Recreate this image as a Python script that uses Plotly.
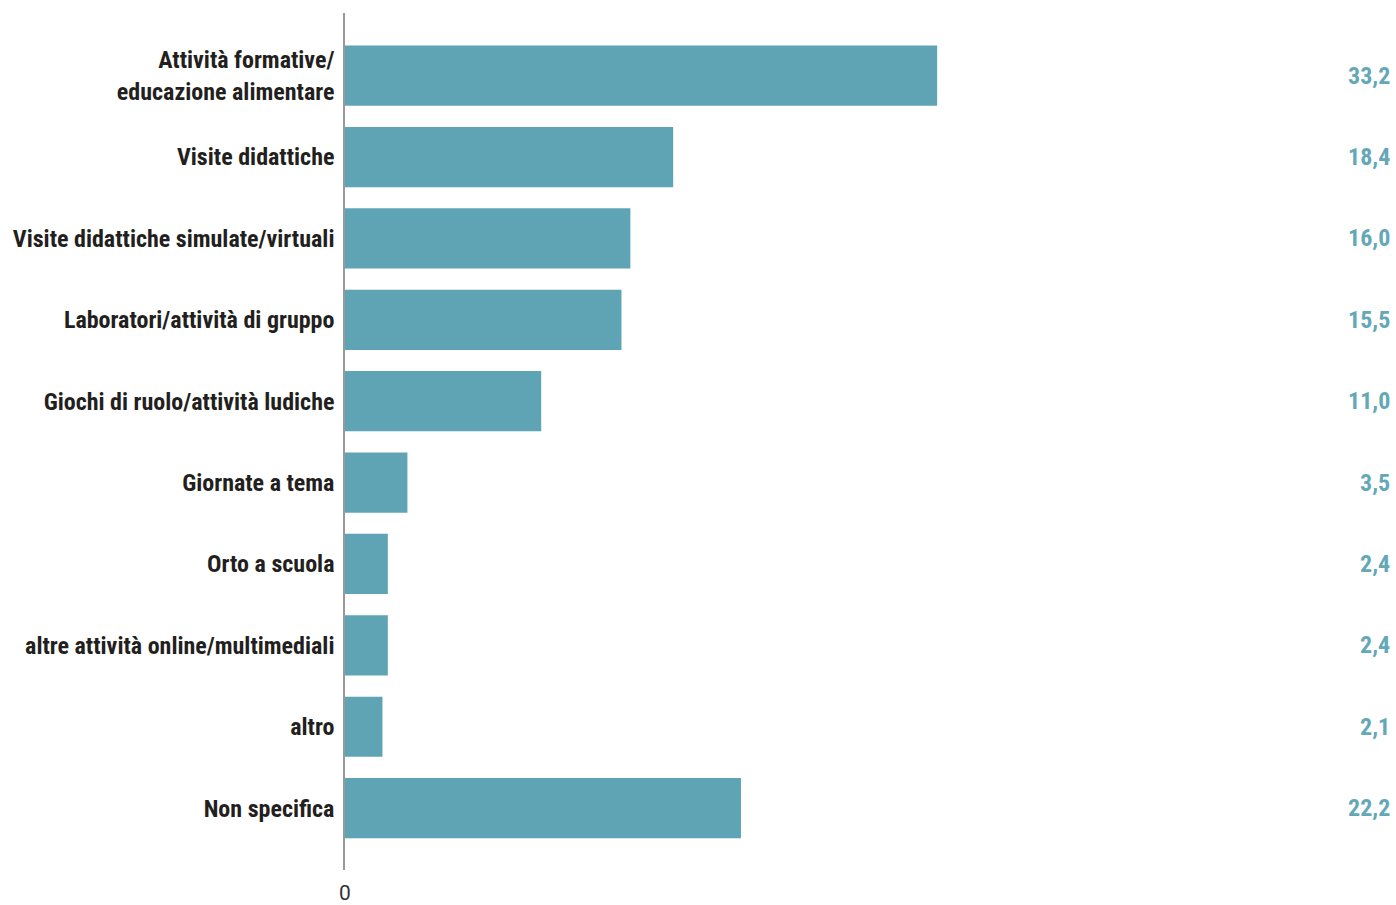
import plotly.graph_objects as go

categories = [
    "Attività formative/<br>educazione alimentare",
    "Visite didattiche",
    "Visite didattiche simulate/virtuali",
    "Laboratori/attività di gruppo",
    "Giochi di ruolo/attività ludiche",
    "Giornate a tema",
    "Orto a scuola",
    "altre attività online/multimediali",
    "altro",
    "Non specifica",
]
values = [33.2, 18.4, 16.0, 15.5, 11.0, 3.5, 2.4, 2.4, 2.1, 22.2]
value_labels = ["33,2", "18,4", "16,0", "15,5", "11,0", "3,5", "2,4", "2,4", "2,1", "22,2"]

BAR = "#5ea4b4"
VAL = "#64a8b8"
LABEL_FONT = "Roboto Condensed, Liberation Sans Narrow, DejaVu Sans Condensed, Roboto"

fig = go.Figure()
fig.add_trace(go.Bar(
    x=values,
    y=list(range(len(categories))),
    orientation="h",
    marker=dict(color=BAR, line=dict(width=0)),
    hoverinfo="skip",
))

for i, lab in enumerate(value_labels):
    fig.add_annotation(
        x=1, xref="paper", y=i, yref="y",
        text=f"<b>{lab}</b>", showarrow=False,
        xanchor="right", yanchor="middle",
        font=dict(family=LABEL_FONT, size=24, color=VAL),
    )

fig.update_layout(
    width=1396, height=905,
    margin=dict(l=345, r=4, t=13, b=35),
    plot_bgcolor="white", paper_bgcolor="white",
    showlegend=False,
    bargap=0.26,
    xaxis=dict(
        range=[0, 58.7], tickvals=[0], ticktext=["0"],
        showgrid=False, zeroline=False, showline=False,
        tickfont=dict(family="Roboto", size=21, color="#333333"),
        ticks="", ticklabelstandoff=8, automargin=False,
    ),
    yaxis=dict(
        tickmode="array", tickvals=list(range(len(categories))),
        ticktext=[f"<b>{c}</b>" for c in categories],
        range=[9.76, -0.77],
        showgrid=False, zeroline=False,
        showline=True, linecolor="#999999", linewidth=1.5,
        ticks="", ticklabelstandoff=4, automargin=False,
        tickfont=dict(family=LABEL_FONT, size=24, color="#231f20"),
    ),
)

fig.write_html(
    "out.html",
    config={"displayModeBar": False},
    post_script="document.body.style.margin='0';document.body.style.overflow='hidden';",
)
